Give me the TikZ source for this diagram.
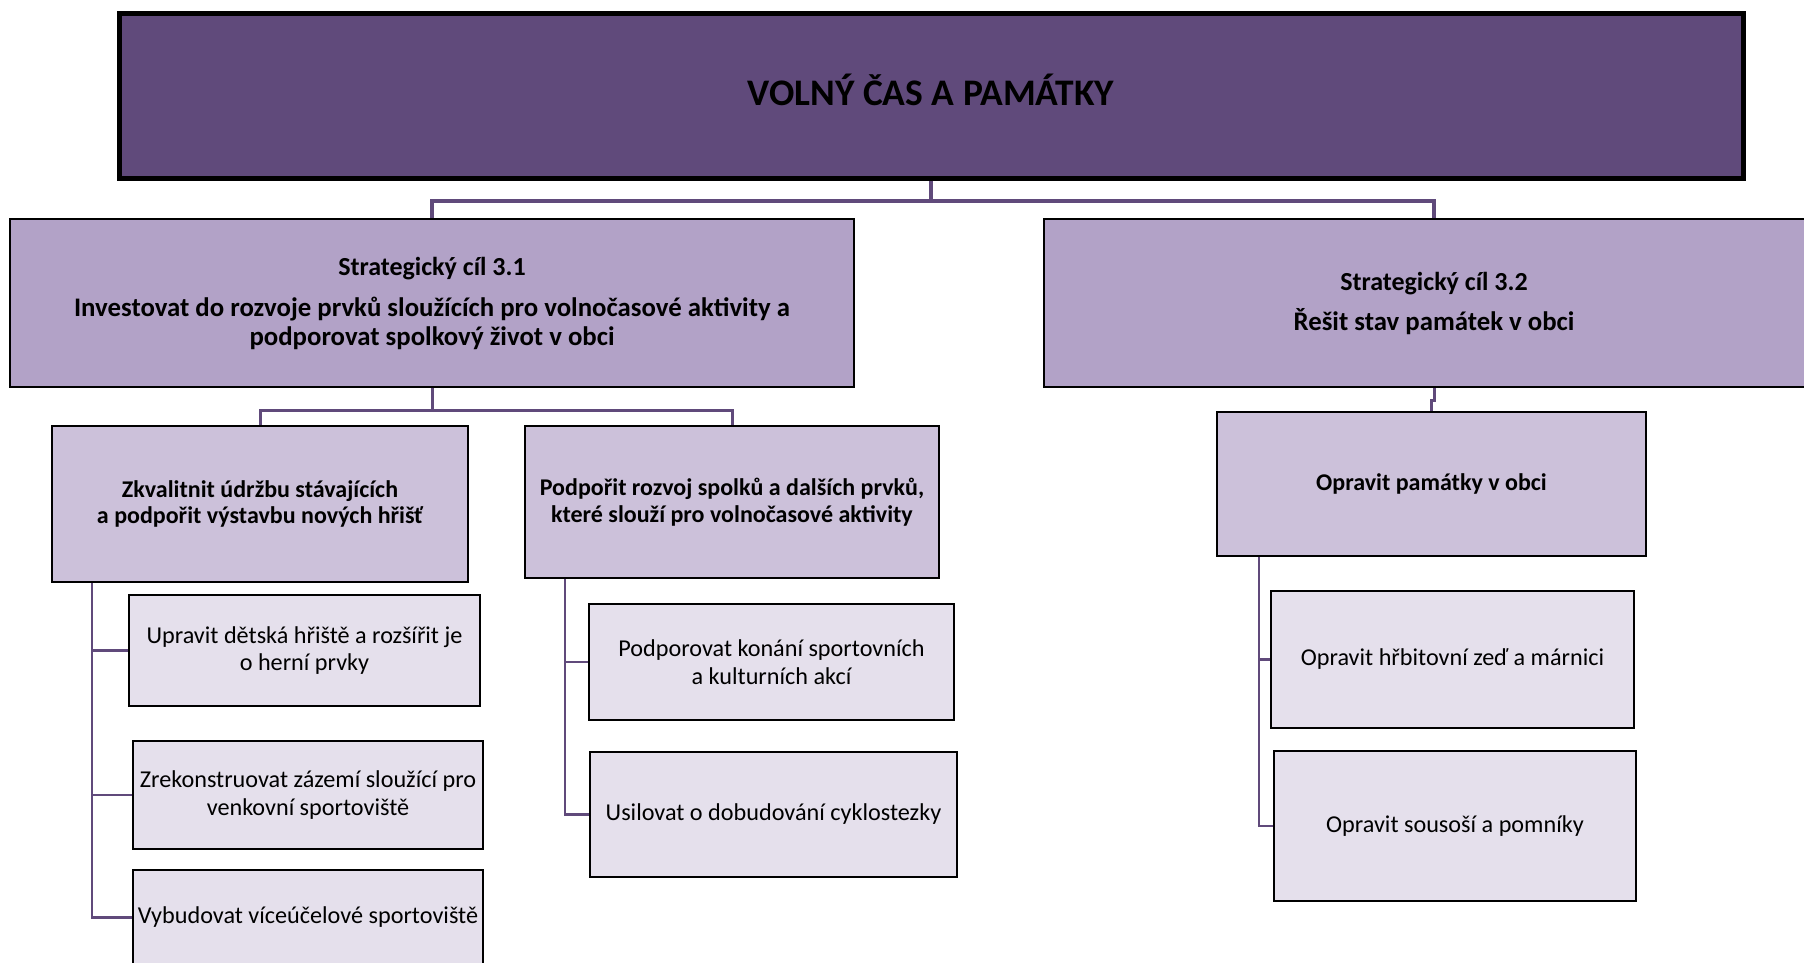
\documentclass[tikz,border=0pt]{standalone}
\usepackage{fontspec}
\setmainfont{Carlito}
\definecolor{cdark}{HTML}{604A7B}
\definecolor{cstrat}{HTML}{B2A2C7}
\definecolor{cmid}{HTML}{CCC1DA}
\definecolor{cleaf}{HTML}{E5E0EC}
\tikzset{
  box/.style={rectangle, draw=black, line width=2.5pt, inner sep=0pt, align=center, text=black},
  topbox/.style={box, fill=cdark, line width=5pt, font=\fontsize{37.5}{44}\selectfont\bfseries, text height=24pt, text depth=4pt},
  stratbox/.style={box, fill=cstrat, font=\fontsize{26}{29}\selectfont\bfseries},
  midbox/.style={box, fill=cmid, font=\fontsize{24}{26.5}\selectfont\bfseries},
  leafbox/.style={box, fill=cleaf, font=\fontsize{24.2}{27.6}\selectfont},
  conn/.style={draw=cdark, line width=4pt},
  subconn/.style={draw=cdark, line width=2.5pt},
}
\newcommand{\bigline}{\fontsize{26.8}{29}\selectfont}
\begin{document}
\begin{tikzpicture}[x=1pt,y=-1pt]
\clip (0,0) rectangle (1804,963);
\fill[white] (0,0) rectangle (1804,963);

\coordinate (j1) at (931,201);
\coordinate (j2) at (432,410);
\coordinate (j3) at (1434,400);

\node[topbox, minimum width=1624pt, minimum height=164pt] (top) at (931,96) {VOLNÝ ČAS A PAMÁTKY};
\node[stratbox, minimum width=844pt, minimum height=168pt] (s1) at (432,303)
  {Strategický cíl 3.1\\[12pt]{\bigline Investovat do rozvoje prvků sloužících pro volnočasové aktivity a}\\{\bigline podporovat spolkový život v obci}};
\node[stratbox, minimum width=780pt, minimum height=168pt] (s2) at (1434,303)
  {Strategický cíl 3.2\\[11pt]{\bigline Řešit stav památek v obci}};

\node[midbox, minimum width=416pt, minimum height=156pt] (a) at (260,504)
  {Zkvalitnit údržbu stávajících\\a podpořit výstavbu nových hřišť};
\node[midbox, minimum width=414pt, minimum height=152pt] (b) at (732,502)
  {Podpořit rozvoj spolků a dalších prvků,\\které slouží pro volnočasové aktivity};
\node[midbox, minimum width=429pt, minimum height=144pt] (c) at (1431.5,484)
  {Opravit památky v obci};

\node[leafbox, minimum width=351pt, minimum height=111pt] (a1) at (304.5,650.5)
  {Upravit dětská hřiště a rozšířit je\\o herní prvky};
\node[leafbox, minimum width=350pt, minimum height=108pt] (a2) at (308,795)
  {Zrekonstruovat zázemí sloužící pro\\venkovní sportoviště};
\node[leafbox, minimum width=350pt, minimum height=95pt] (a3) at (308,917.5)
  {Vybudovat víceúčelové sportoviště};
\node[leafbox, minimum width=365pt, minimum height=116pt] (b1) at (771.5,662)
  {Podporovat konání sportovních\\a kulturních akcí};
\node[leafbox, minimum width=367pt, minimum height=125pt] (b2) at (773.5,814.5)
  {Usilovat o dobudování cyklostezky};
\node[leafbox, minimum width=363pt, minimum height=137pt] (c1) at (1452.5,659.5)
  {Opravit hřbitovní zeď a márnici};
\node[leafbox, minimum width=362pt, minimum height=150pt] (c2) at (1455,826)
  {Opravit sousoší a pomníky};

% top level connectors
\draw[conn] (top.south) -- (j1);
\draw[conn] (j1) -| (s1.north);
\draw[conn] (j1) -| (s2.north);
% level 2
\draw[conn, line width=3pt] (s1.south) -- (j2);
\draw[conn, line width=3pt] (j2) -| (a.north);
\draw[conn, line width=3pt] (j2) -| (b.north);
\draw[conn, line width=3pt] (s2.south) -- (j3) -| (c.north);
% leaves
\draw[subconn] ([xshift=41pt]a.south west) |- (a1.west);
\draw[subconn] ([xshift=41pt]a.south west) |- (a2.west);
\draw[subconn] ([xshift=41pt]a.south west) |- (a3.west);
\draw[subconn] ([xshift=41pt]b.south west) |- (b1.west);
\draw[subconn] ([xshift=41pt]b.south west) |- (b2.west);
\draw[subconn] ([xshift=43pt]c.south west) |- (c1.west);
\draw[subconn] ([xshift=43pt]c.south west) |- (c2.west);
\end{tikzpicture}
\end{document}
